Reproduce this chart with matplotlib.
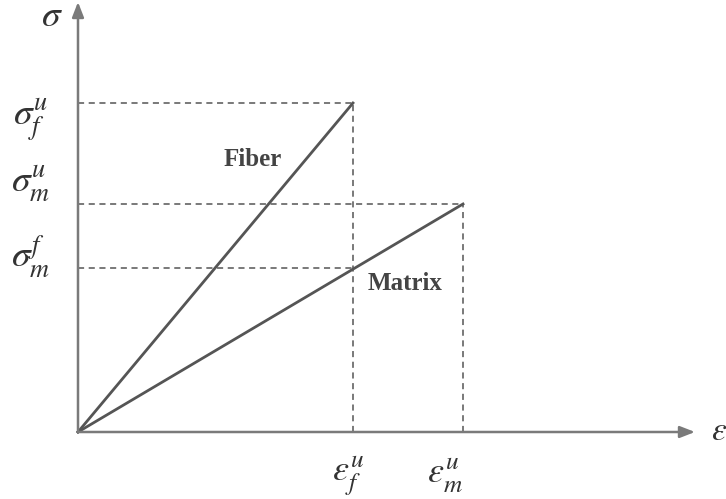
import matplotlib
matplotlib.use("Agg")
import matplotlib.pyplot as plt

# stress-strain data (arbitrary units)
eps_f_u = 2.75   # fiber failure strain
eps_m_u = 3.85   # matrix failure strain
sig_f_u = 3.29   # fiber strength
sig_m_u = 2.28   # matrix strength
sig_m_f = 1.64   # matrix stress at fiber failure

fiber_x = [0, eps_f_u]
fiber_y = [0, sig_f_u]
matrix_x = [0, eps_m_u]
matrix_y = [0, sig_m_u]

plt.rcParams["mathtext.fontset"] = "stix"
plt.rcParams["font.family"] = ["Liberation Serif", "DejaVu Serif"]

fig = plt.figure(figsize=(7.26, 4.99), dpi=100)
ax = fig.add_axes([0, 0, 1, 1])
ax.set_xlim(-0.78, 6.48)
ax.set_ylim(-0.67, 4.32)
ax.axis("off")

line_col = "#555555"
dash_col = "#555555"
axis_col = "#7a7a7a"

# axes with arrows
ax.annotate("", xy=(6.17, 0), xytext=(0, 0),
            arrowprops=dict(arrowstyle="-|>,head_length=0.9,head_width=0.35",
                            color=axis_col, lw=1.8, shrinkA=0, shrinkB=0))
ax.annotate("", xy=(0, 4.30), xytext=(0, 0),
            arrowprops=dict(arrowstyle="-|>,head_length=0.9,head_width=0.35",
                            color=axis_col, lw=1.8, shrinkA=0, shrinkB=0))

# dashed guide lines
dash = dict(color=dash_col, lw=1.1, ls=(0, (4, 3)))
ax.plot([0, eps_f_u], [sig_f_u, sig_f_u], **dash)
ax.plot([eps_f_u, eps_f_u], [0, sig_f_u], **dash)
ax.plot([0, eps_m_u], [sig_m_u, sig_m_u], **dash)
ax.plot([eps_m_u, eps_m_u], [0, sig_m_u], **dash)
ax.plot([0, eps_f_u], [sig_m_f, sig_m_f], **dash)

# stress-strain lines
ax.plot(fiber_x, fiber_y, color=line_col, lw=2)
ax.plot(matrix_x, matrix_y, color=line_col, lw=2)

# labels
txt_col = "#333333"
ax.text(1.75, 2.72, "Fiber", fontsize=18, fontweight="bold", color="#444444",
        ha="center", va="center")
ax.text(3.27, 1.49, "Matrix", fontsize=18, fontweight="bold", color="#444444",
        ha="center", va="center")

ax.text(-0.26, 4.15, r"$\sigma$", fontsize=27, color=txt_col, ha="center", va="center")
ax.text(-0.47, sig_f_u - 0.17, r"$\sigma_f^u$", fontsize=27, color=txt_col, ha="center", va="center")
ax.text(-0.47, sig_m_u + 0.2, r"$\sigma_m^u$", fontsize=27, color=txt_col, ha="center", va="center")
ax.text(-0.47, sig_m_f + 0.12, r"$\sigma_m^f$", fontsize=27, color=txt_col, ha="center", va="center")
ax.text(eps_f_u - 0.05, -0.44, r"$\varepsilon_f^u$", fontsize=26, color=txt_col, ha="center", va="center")
ax.text(eps_m_u - 0.18, -0.44, r"$\varepsilon_m^u$", fontsize=26, color=txt_col, ha="center", va="center")
ax.text(6.33, 0.0, r"$\varepsilon$", fontsize=24, color=txt_col, ha="left", va="center")

fig.savefig("out.png", dpi=100)
